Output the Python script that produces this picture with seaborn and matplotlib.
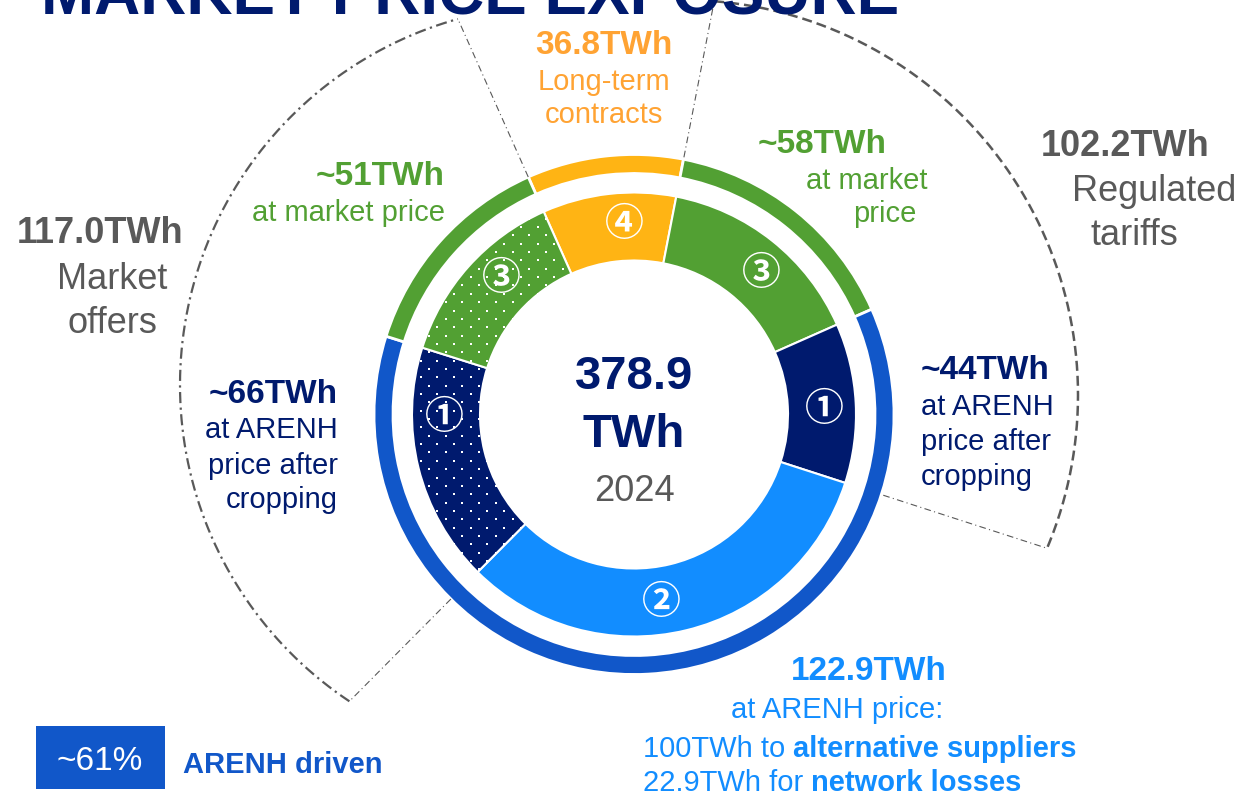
import numpy as np
import matplotlib
matplotlib.use("Agg")
import matplotlib.pyplot as plt
import seaborn as sns
from matplotlib import font_manager
from matplotlib.patches import Rectangle

# inner ring, clockwise from the top (long-term contracts)
segments = ["Long-term contracts", "Market price (regulated)", "ARENH after cropping (regulated)",
            "ARENH price", "ARENH after cropping (market offers)", "Market price (market offers)"]
segment_twh = [36.8, 58, 44, 122.9, 66, 51]
segment_marks = ["④", "③", "①", "②", "①", "③"]
segment_dotted = [False, False, False, False, True, True]
total_twh = "378.9"
year = "2024"
market_offers_twh = "117.0TWh"
regulated_twh = "102.2TWh"
arenh_share = "~61%"

NAVY = "#001a6e"
LIGHT = "#128dff"
BLUE = "#1157c9"
GREEN = "#52a033"
ORANGE = "#ffb414"
ORANGE_TXT = "#ffa333"
GREY = "#595959"

inner_colors = [ORANGE, GREEN, NAVY, LIGHT, NAVY, GREEN]

# outer ring: orange, green, everything ARENH, green
outer_twh = [segment_twh[0], segment_twh[1], sum(segment_twh[2:5]), segment_twh[5]]
outer_colors = [ORANGE, GREEN, BLUE, GREEN]

sns.set_theme(style="white")
plt.rcParams["font.family"] = ["Liberation Sans", "DejaVu Sans"]

W, H = 1242, 796
fig = plt.figure(figsize=(W / 100, H / 100), dpi=100)
ax = fig.add_axes([0, 0, 1, 1])

cx, cy = 634, H - 414.5
start = 114

ax.pie(outer_twh, radius=260, center=(cx, cy), startangle=start, counterclock=False,
       colors=outer_colors, wedgeprops=dict(width=19, edgecolor="white", linewidth=2))
wedges, _ = ax.pie(segment_twh, radius=222, center=(cx, cy), startangle=start,
                   counterclock=False, colors=inner_colors,
                   wedgeprops=dict(width=68, edgecolor="white", linewidth=1.5))

ax.set_xlim(0, W)
ax.set_ylim(0, H)
ax.set_aspect("equal")
ax.axis("off")

# white dot texture on the market-offer segments
step = 16.7
gx, gy = [], []
for k, yy in enumerate(np.arange(cy - 230, cy + 230, step / 2)):
    xs = np.arange(cx - 230, cx + 230, step) + (step / 2 if k % 2 else 0)
    gx.extend(xs)
    gy.extend([yy] * len(xs))
for w, dotted in zip(wedges, segment_dotted):
    if dotted:
        sc = ax.scatter(gx, gy, s=4, marker="s", color="white", linewidths=0, zorder=3)
        sc.set_clip_path(w)

frac = np.array(segment_twh) / sum(segment_twh)
edges = start - 360 * np.concatenate([[0], np.cumsum(frac)])

# circled markers in the inner ring
mark_shift = [-3.5, -3.5, -1.5, -5.5, -13, -4]
for i, m in enumerate(segment_marks):
    a = np.deg2rad((edges[i] + edges[i + 1]) / 2 + mark_shift[i])
    ax.text(cx + 190 * np.cos(a), cy + 190 * np.sin(a), m, color="white", fontsize=28,
            fontweight="bold", family=["Noto Sans CJK JP", "DejaVu Sans"],
            ha="center", va="center", zorder=4)


def hit(a, ocx, ocy, r):
    # point where the ray from the donut centre at angle a meets the bracket circle
    u = np.array([np.cos(np.deg2rad(a)), np.sin(np.deg2rad(a))])
    d = np.array([cx - ocx, cy - ocy])
    b = d @ u
    t = -b + np.sqrt(b * b - (d @ d - r * r))
    return cx + t * u[0], cy + t * u[1]


def bracket(a0, a1, ocx, ocy, r, r0, line_kw, ray_kw):
    p0 = hit(a0, ocx, ocy, r)
    p1 = hit(a1, ocx, ocy, r)
    t0 = np.arctan2(p0[1] - ocy, p0[0] - ocx)
    t1 = np.arctan2(p1[1] - ocy, p1[0] - ocx)
    if a1 > a0 and t1 < t0:
        t1 += 2 * np.pi
    if a1 < a0 and t1 > t0:
        t1 -= 2 * np.pi
    t = np.linspace(t0, t1, 300)
    ax.plot(ocx + r * np.cos(t), ocy + r * np.sin(t), **line_kw)
    for a, p in [(a0, p0), (a1, p1)]:
        ra = np.deg2rad(a)
        ax.plot([cx + r0 * np.cos(ra), p[0]], [cy + r0 * np.sin(ra), p[1]], **ray_kw)


thin = dict(color=GREY, lw=0.8, dashes=(6, 3, 1, 3))
# market offers bracket (dotted segments)
bracket(edges[4], edges[6], 560, H - 385, 380, 260,
        dict(color=GREY, lw=1.6, dashes=(5, 2, 1, 2)), thin)
# regulated tariffs bracket
bracket(edges[1], edges[3], 683, H - 395, 395, 262,
        dict(color=GREY, lw=1.8, dashes=(4, 2)), thin)


def put(x, yc, s, size, color, ha="center", bold=False, family=None):
    # yc = vertical centre of capitals, measured from the top
    y = H - (yc + 0.497 * size)
    kw = dict(fontsize=size, color=color, ha=ha, va="baseline",
              fontweight="bold" if bold else "normal")
    if family:
        kw["family"] = family
    return ax.text(x, y, s, **kw)


names = {f.name for f in font_manager.fontManager.ttflist}
if "Liberation Sans Narrow" in names:
    put(470, -10, "MARKET PRICE EXPOSURE", 56, NAVY, bold=True, family="Liberation Sans Narrow")
else:
    put(470, -8, "MARKET PRICE EXPOSURE", 46, NAVY, bold=True)

put(604, 42.5, "36.8TWh", 24, ORANGE_TXT, bold=True)
put(604, 80, "Long-term", 21, ORANGE_TXT)
put(604, 113, "contracts", 21, ORANGE_TXT)

put(445, 173, "~51TWh", 24, GREEN, ha="right", bold=True)
put(445, 211, "at market price", 21, GREEN, ha="right")

put(822, 141, "~58TWh", 24, GREEN, bold=True)
put(928, 179, "at market", 21, GREEN, ha="right")
put(916, 212, "price", 21, GREEN, ha="right")

put(1125, 143, regulated_twh, 26, GREY, bold=True)
put(1154, 188, "Regulated", 26, GREY)
put(1134, 232, "tariffs", 26, GREY)

put(100, 230, market_offers_twh, 26, GREY, bold=True)
put(112, 276, "Market", 26, GREY)
put(112, 320, "offers", 26, GREY)

put(338, 391, "~66TWh", 24, NAVY, ha="right", bold=True)
put(338, 428, "at ARENH", 21, NAVY, ha="right")
put(338, 464, "price after", 21, NAVY, ha="right")
put(338, 498, "cropping", 21, NAVY, ha="right")

put(921, 367, "~44TWh", 24, NAVY, ha="left", bold=True)
put(921, 405, "at ARENH", 21, NAVY, ha="left")
put(921, 440, "price after", 21, NAVY, ha="left")
put(921, 475, "cropping", 21, NAVY, ha="left")

put(634, 372, total_twh, 34, NAVY, bold=True)
put(634, 430, "TWh", 34, NAVY, bold=True)
put(634, 488, year, 26, GREY)

put(869, 668, "122.9TWh", 24, LIGHT, bold=True)
put(837, 708, "at ARENH price:", 21, LIGHT)
renderer = fig.canvas.get_renderer()
for yc, a, b in [(747, "100TWh to ", "alternative suppliers"), (781, "22.9TWh for ", "network losses")]:
    t = put(643, yc, a, 21, LIGHT, ha="left")
    x1 = t.get_window_extent(renderer).x1
    put(x1, yc, b, 21, LIGHT, ha="left", bold=True)

ax.add_patch(Rectangle((36, H - 789), 129, 63, color=BLUE, lw=0))
put(100, 758, arenh_share, 24, "white")
put(183, 763, "ARENH driven", 21, BLUE, ha="left", bold=True)

fig.savefig("out.png", dpi=100)
